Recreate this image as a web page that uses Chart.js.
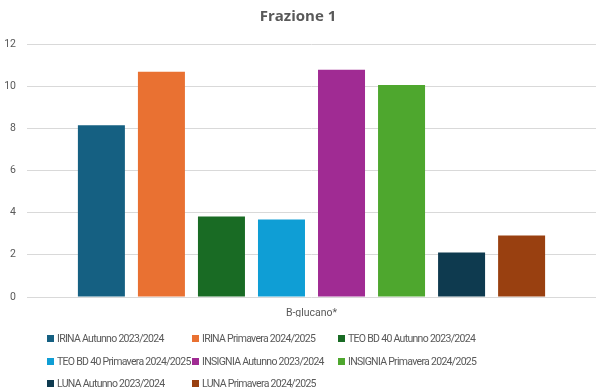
<!DOCTYPE html>
<html>
<head>
<meta charset="utf-8">
<script src="https://cdn.jsdelivr.net/npm/chart.js@4"></script>
<style>
  html, body { margin: 0; padding: 0; background: #fff; }
  #wrap { position: relative; width: 603px; height: 389px; }
  #legend {
    position: absolute; left: 47px; top: 330px;
    display: grid; grid-template-columns: 145px 146px 180px;
    row-gap: 5.5px;
    font: 10.5px "Roboto", sans-serif; letter-spacing: -0.7px; color: #595959;
  }
  #legend div { height: 17px; line-height: 17px; white-space: nowrap; }
  #legend span { display: inline-block; width: 7px; height: 7px; margin-right: 3px; }
</style>
</head>
<body>
<div id="wrap">
  <canvas id="chart" width="603" height="389"></canvas>
  <div id="legend"></div>
</div>
<script>
const categories = ['B-glucano*'];
const seriesNames = [
  'IRINA Autunno 2023/2024', 'IRINA Primavera 2024/2025', 'TEO BD 40 Autunno 2023/2024',
  'TEO BD 40 Primavera 2024/2025', 'INSIGNIA Autunno 2023/2024', 'INSIGNIA Primavera 2024/2025',
  'LUNA Autunno 2023/2024', 'LUNA Primavera 2024/2025'
];
const seriesValues = [8.15, 10.68, 3.82, 3.68, 10.78, 10.06, 2.11, 2.92];
const colors = ['#156082', '#E97132', '#196B24', '#0F9ED5', '#A02B93', '#4EA72E', '#0E3A4F', '#994010'];
const yTicks = [0, 2, 4, 6, 8, 10, 12];

const textColor = '#595959';
const gridColor = '#D9D9D9';

const datasets = seriesNames.map((name, i) => ({
  label: name,
  data: [seriesValues[i]],
  backgroundColor: colors[i],
  borderWidth: 0,
  categoryPercentage: 0.844,
  barPercentage: 0.783
}));

const chart = new Chart(document.getElementById('chart'), {
  type: 'bar',
  data: { labels: categories, datasets: datasets },
  options: {
    responsive: false,
    animation: false,
    layout: { padding: { left: 0, right: 7, top: 0, bottom: 72 } },
    plugins: {
      legend: { display: false },
      tooltip: { enabled: false },
      title: {
        display: true,
        text: 'Frazione 1',
        color: textColor,
        font: { family: 'Open Sans, Liberation Sans, sans-serif', size: 15, weight: 'bold' },
        padding: { top: 8, bottom: 18 }
      }
    },
    scales: {
      x: {
        grid: { display: false },
        border: { display: false },
        ticks: { color: textColor, font: { family: 'Roboto, sans-serif', size: 10.5 }, padding: 2 },
        afterFit: s => { s.height = 20; }
      },
      y: {
        min: 0, max: 12,
        afterBuildTicks: s => { s.ticks = yTicks.map(v => ({ value: v })); },
        grid: { color: gridColor, lineWidth: 1, drawTicks: false },
        border: { display: false },
        ticks: { color: textColor, font: { family: 'Roboto, sans-serif', size: 10.5 }, padding: 11 },
        afterFit: s => { s.width = 27; }
      }
    }
  }
});

const legendEl = document.getElementById('legend');
chart.data.datasets.forEach(ds => {
  const item = document.createElement('div');
  const box = document.createElement('span');
  box.style.background = ds.backgroundColor;
  item.appendChild(box);
  item.appendChild(document.createTextNode(ds.label));
  legendEl.appendChild(item);
});
</script>
</body>
</html>
